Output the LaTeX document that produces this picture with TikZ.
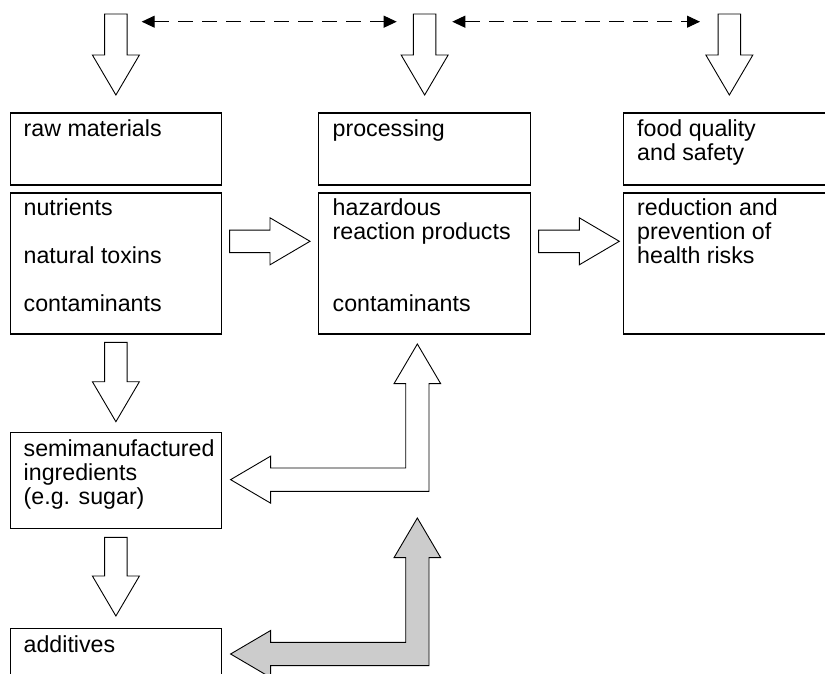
\documentclass[tikz,border=0pt]{standalone}
\usepackage{fontspec}
\setmainfont{Liberation Sans}
\usetikzlibrary{calc,arrows.meta}
\definecolor{lgrey}{HTML}{CCCCCC}
\newcommand\boxlines[1]{\vtop{\baselineskip=24pt\lineskiplimit=-100pt\lineskip=0pt\halign{##\hfil\cr#1\crcr}}}
\tikzset{
  box/.style={draw, line width=1.3pt, rectangle, inner sep=0pt, anchor=north west},
  txt/.style={inner sep=0pt, anchor=base west, font=\fontsize{23.2}{24}\selectfont},
  arrowline/.style={draw, line width=0.9pt, line join=miter, fill=white},
  dasharrow/.style={line width=1pt, dash pattern=on 15pt off 9pt,
    {Triangle[length=13pt,width=12pt]}-{Triangle[length=13pt,width=12pt]}},
}
\newcommand\blockarrow[2]{%
  \path[arrowline] ($(#1)!11.25pt!90:(#2)$)
    -- ($(#2)!40pt!(#1)!11.25pt!90:(#2)$)
    -- ($(#2)!40pt!(#1)!23.5pt!90:(#2)$)
    -- (#2)
    -- ($(#2)!40pt!(#1)!23.5pt!-90:(#2)$)
    -- ($(#2)!40pt!(#1)!11.25pt!-90:(#2)$)
    -- ($(#1)!11.25pt!-90:(#2)$) -- cycle;}
% L-shaped arrow: #1 fill, #2 upper tip, #3 left tip, #4 corner centre
\newcommand\larrow[4]{%
  \path[arrowline, fill=#1] (#2) -- ($(#2)+(23.3,39.6)$) -- ($(#2)+(11.65,39.6)$)
    -- ($(#4)+(11.65,11.65)$) -- ($(#3)+(40,11.65)$) -- ($(#3)+(40,23.5)$)
    -- (#3) -- ($(#3)+(40,-23.5)$) -- ($(#3)+(40,-11.65)$)
    -- ($(#4)+(-11.65,-11.65)$) -- ($(#2)+(-11.65,39.6)$) -- ($(#2)+(-23.3,39.6)$) -- cycle;}
\begin{document}
\begin{tikzpicture}[x=1pt, y=-1pt]
\useasboundingbox (0,0) rectangle (825,674);
\fill[white] (0,0) rectangle (825,674);

% boxes
\node[box, minimum width=211.5pt, minimum height=72pt]   (raw)  at (9.5,112.5) {};
\node[box, minimum width=211.5pt, minimum height=141pt]  (nut)  at (9.5,192.3) {};
\node[box, minimum width=212pt,   minimum height=72pt]   (proc) at (318,112.5) {};
\node[box, minimum width=212pt,   minimum height=141pt]  (haz)  at (318,192.3) {};
\node[box, minimum width=212pt,   minimum height=72pt]   (food) at (622.7,112.5) {};
\node[box, minimum width=212pt,   minimum height=141pt]  (red)  at (622.7,192.3) {};
\node[box, minimum width=211.5pt, minimum height=96.3pt] (semi) at (9.5,431.7) {};
\node[box, minimum width=211.5pt, minimum height=70pt]   (add)  at (9.5,627.7) {};

% texts
\node[txt] (rawt)  at (23.5,137)   {raw materials};
\node[txt] (nutt)  at (23.5,215)   {\boxlines{nutrients\cr\cr natural toxins\cr\cr contaminants}};
\node[txt] (proct) at (332.5,136.7) {processing};
\node[txt] (hazt)  at (332.5,215)  {\boxlines{hazardous\cr reaction products\cr\cr\cr contaminants}};
\node[txt] (foodt) at (637,136.5)  {\boxlines{food quality\cr and safety}};
\node[txt] (redt)  at (637,215)    {\boxlines{reduction and\cr prevention of\cr health risks}};
\node[txt] (semit) at (23.5,456)   {\boxlines{semimanufactured\cr ingredients\cr (e.g. sugar)}};
\node[txt] (addt)  at (23.5,652)   {additives};

% top down arrows
\coordinate (a1s) at ($(raw.north)+(0,-98.5)$);  \coordinate (a1t) at ($(raw.north)+(0,-17.5)$);
\coordinate (a2s) at ($(proc.north)+(0,-98.5)$); \coordinate (a2t) at ($(proc.north)+(0,-17.5)$);
\coordinate (a3s) at ($(food.north)+(0,-98.5)$); \coordinate (a3t) at ($(food.north)+(0,-17.5)$);
\blockarrow{a1s}{a1t}
\blockarrow{a2s}{a2t}
\blockarrow{a3s}{a3t}

% dashed double arrows
\coordinate (d1a) at (141.7,21.7); \coordinate (d1b) at (396.7,21.7);
\coordinate (d2a) at (452.3,21.7); \coordinate (d2b) at (700,21.7);
\draw[dasharrow] (d1a) -- (d1b);
\draw[dasharrow] (d2a) -- (d2b);

% right arrows
\coordinate (r1s) at ($(nut.north east)+(7.3,49)$); \coordinate (r1t) at ($(haz.north west)+(-8,49)$);
\coordinate (r2s) at ($(haz.north east)+(7.3,49)$); \coordinate (r2t) at ($(red.north west)+(-3.4,49)$);
\blockarrow{r1s}{r1t}
\blockarrow{r2s}{r2t}

% left column down arrows
\coordinate (b1s) at ($(nut.south)+(0,7.7)$);  \coordinate (b1t) at ($(semi.north)+(0,-10)$);
\coordinate (b2s) at ($(semi.south)+(0,8)$);   \coordinate (b2t) at ($(add.north)+(0,-11.7)$);
\blockarrow{b1s}{b1t}
\blockarrow{b2s}{b2t}

% L-shaped arrows
\coordinate (wU) at ($(haz.south)+(-7.3,9.4)$);
\coordinate (wL) at ($(semi.east)+(8.3,-0.85)$);
\coordinate (wC) at (wU |- wL);
\larrow{white}{wU}{wL}{wC}
\coordinate (gU) at ($(haz.south)+(-7.3,183.4)$);
\coordinate (gL) at ($(add.north east)+(8.3,26.3)$);
\coordinate (gC) at (gU |- gL);
\larrow{lgrey}{gU}{gL}{gC}
\end{tikzpicture}
\end{document}
